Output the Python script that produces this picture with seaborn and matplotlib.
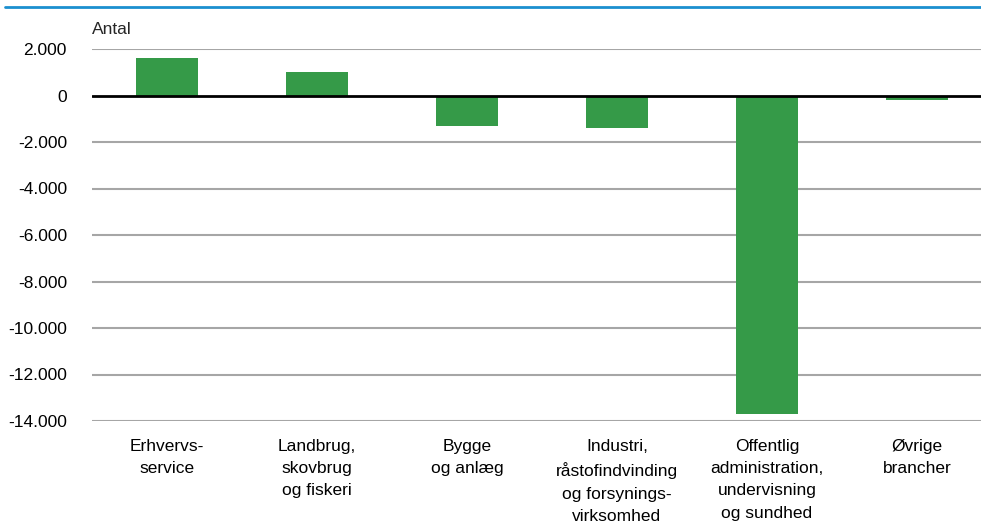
import pandas as pd
import seaborn as sns
import matplotlib.pyplot as plt
from matplotlib.ticker import FuncFormatter
from matplotlib.lines import Line2D

categories = ["Erhvervs-\nservice", "Landbrug,\nskovbrug\nog fiskeri", "Bygge\nog anlæg",
              "Industri,\nråstofindvinding\nog forsynings-\nvirksomhed",
              "Offentlig\nadministration,\nundervisning\nog sundhed", "Øvrige\nbrancher"]
values = [1600, 1000, -1300, -1400, -13700, -200]
yticks = [2000, 0, -2000, -4000, -6000, -8000, -10000, -12000, -14000]

df = pd.DataFrame({"branche": categories, "antal": values})

sns.set_style("white")
plt.rcParams["font.family"] = ["Liberation Sans", "DejaVu Sans"]

fig = plt.figure(figsize=(9.81, 5.32), dpi=100)
ax = fig.add_axes([92 / 981, 1 - 421 / 532, 1 - 92 / 981, (421 - 49) / 532])

ax.set_axisbelow(True)
for t in yticks:
    if t != 0:
        ax.axhline(t, color="#a6a6a6", lw=1.5, zorder=0)

sns.barplot(data=df, x="branche", y="antal", color="#359a48", saturation=1,
            width=0.41, linewidth=0, edgecolor="none", ax=ax, zorder=2)
ax.axhline(0, color="black", lw=2, zorder=3)

ax.set_ylim(-14000, 2000)
ax.set_xlim(-0.5, -0.5 + 889 / 150)
ax.set_yticks(yticks)
ax.yaxis.set_major_formatter(FuncFormatter(lambda v, p: f"{int(v):,}".replace(",", ".")))
ax.tick_params(axis="y", labelsize=12.5, length=0, pad=18, colors="black")
ax.tick_params(axis="x", labelsize=12.5, length=0, pad=13, colors="black")
for lbl in ax.get_xticklabels():
    lbl.set_linespacing(1.6)
ax.set_xlabel("")
ax.set_ylabel("")
sns.despine(ax=ax, left=True, bottom=True, top=True, right=True)

fig.text(92 / 981, 1 - 30 / 532, "Antal", fontsize=12.5, va="center", ha="left")
fig.add_artist(Line2D([5 / 981, 1], [1 - 7 / 532, 1 - 7 / 532], color="#1b8fcf", lw=2))

fig.savefig("out.png", dpi=100)
